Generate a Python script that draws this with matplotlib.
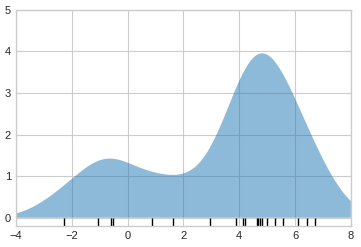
import numpy as np
import matplotlib
matplotlib.use('Agg')
import matplotlib.pyplot as plt

# サンプル点（ラグの位置）
x = [-2.29, -1.06, -0.61, -0.52, 0.87, 1.61,
     2.94, 3.88, 4.12, 4.20, 4.62, 4.66, 4.74, 4.82, 4.99,
     5.27, 5.57, 6.11, 6.43, 6.71]

x_d = np.linspace(-4, 8, 1000)

# 各点に幅1のガウスカーネルを置いて足し合わせる
x_arr = np.array(x)
density = np.exp(-0.5 * (x_d[:, None] - x_arr[None, :]) ** 2).sum(axis=1) / np.sqrt(2 * np.pi)

plt.style.use('seaborn-v0_8-whitegrid')
plt.rcParams.update({'font.size': 8, 'font.family': ['Liberation Sans', 'DejaVu Sans']})

fig = plt.figure(figsize=(3.61, 2.47), dpi=100)
ax = fig.add_axes([0.044, 0.085, 0.928, 0.875])
ax.fill_between(x_d, density, alpha=0.5)
ax.plot(x_arr, np.full_like(x_arr, -0.1), '|k', markeredgewidth=1)
ax.axis([-4, 8, -0.2, 5])

fig.savefig('out.png', dpi=100)
